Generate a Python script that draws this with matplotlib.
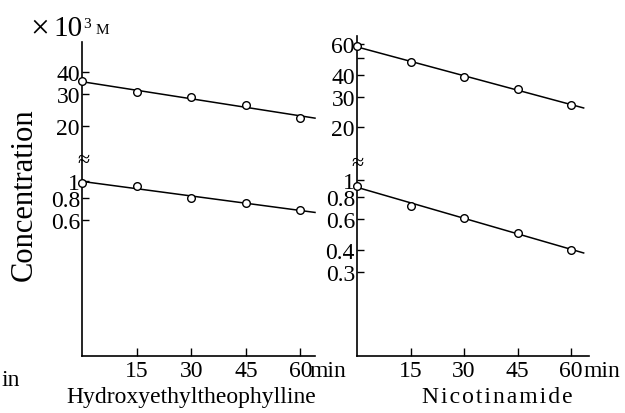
import numpy as np
import matplotlib
matplotlib.use("Agg")
import matplotlib.pyplot as plt
from matplotlib.ticker import FixedLocator, NullLocator, FixedFormatter

plt.rcParams['font.family'] = ['Liberation Serif', 'DejaVu Serif']

# ---- data (x 10^3 M) ----
time = [0, 15, 30, 45, 60]
hyd_high = [35.5, 30.8, 29.0, 26.2, 22.2]
hyd_low = [0.98, 0.94, 0.80, 0.75, 0.68]
nic_high = [58.5, 47.0, 39.0, 33.0, 27.0]
nic_low = [0.93, 0.71, 0.61, 0.50, 0.40]

xticks = [15, 30, 45, 60]
xticklabels = ["15", "30", "45", "60"]

hyd_hi_ticks = [20, 30, 40]
hyd_hi_labels = ["20", "30", "40"]
hyd_lo_ticks = [0.6, 0.8, 1.0]
hyd_lo_labels = ["0.6", "0.8", "1"]
nic_hi_ticks = [20, 30, 40, 50, 60]
nic_hi_labels = ["20", "30", "40", "", "60"]
nic_lo_ticks = [0.3, 0.4, 0.6, 0.8, 1.0]
nic_lo_labels = ["0.3", "0.4", "0.6", "0.8", "1"]

W, H = 625, 414
fig = plt.figure(figsize=(W / 100, H / 100), dpi=100)

FS = 17
LW = 1.2


def fx(px):
    return px / W


def fy(py):
    return 1 - py / H


def make_panel(x0, x1, top, brk, bottom, xmax, hi_lim, lo_lim,
               hi, lo, hi_t, hi_l, lo_t, lo_l, tend):
    axu = fig.add_axes([fx(x0), fy(brk), fx(x1) - fx(x0), fy(top) - fy(brk)])
    axl = fig.add_axes([fx(x0), fy(bottom), fx(x1) - fx(x0), fy(brk) - fy(bottom)])
    for ax, lim, vals, tks, lbs in ((axu, hi_lim, hi, hi_t, hi_l),
                                    (axl, lo_lim, lo, lo_t, lo_l)):
        ax.set_yscale('log')
        ax.set_xlim(0, xmax)
        ax.set_ylim(*lim)
        ax.patch.set_alpha(0)
        for s in ('top', 'right'):
            ax.spines[s].set_visible(False)
        ax.spines['left'].set_linewidth(LW)
        ax.spines['bottom'].set_linewidth(LW)
        ax.yaxis.set_major_locator(FixedLocator(tks))
        ax.yaxis.set_major_formatter(FixedFormatter(lbs))
        ax.yaxis.set_minor_locator(NullLocator())
        ax.tick_params(axis='y', direction='in', length=5, width=1,
                       labelsize=FS, pad=1.5)
        # fitted straight line on log scale
        coef = np.polyfit(time, np.log10(vals), 1)
        tt = np.array([0, tend])
        ax.plot(tt, 10 ** np.polyval(coef, tt), color='black', lw=1.1,
                clip_on=False, zorder=2)
        ax.plot(time, vals, 'o', mfc='white', mec='black', ms=5.5,
                mew=1.0, clip_on=False, zorder=3)
    axu.spines['bottom'].set_visible(False)
    axu.xaxis.set_major_locator(NullLocator())
    axu.xaxis.set_minor_locator(NullLocator())
    axl.xaxis.set_major_locator(FixedLocator(xticks))
    axl.xaxis.set_major_formatter(FixedFormatter(xticklabels))
    axl.tick_params(axis='x', direction='in', length=6, width=1,
                    labelsize=FS, pad=3)
    # break mark
    fig.text(fx(x0 + 1), fy(brk + 1), "≈", fontsize=16, ha='center',
             va='center')
    return axu, axl


axu1, axl1 = make_panel(82, 315, 43, 161, 357, 64, (12.9, 59), (0.1, 1.32),
                        hyd_high, hyd_low, hyd_hi_ticks, hyd_hi_labels,
                        hyd_lo_ticks, hyd_lo_labels, 64)
axu2, axl2 = make_panel(357, 589, 37, 164, 357, 65, (12.5, 66.6), (0.099, 1.25),
                        nic_high, nic_low, nic_hi_ticks, nic_hi_labels,
                        nic_lo_ticks, nic_lo_labels, 63.5)

# "min" after the 60 tick labels
fig.text(fx(310), fy(372), "min", fontsize=FS, ha='left', va='center')
fig.text(fx(583), fy(372), "min", fontsize=FS, ha='left', va='center')
fig.text(fx(2), fy(381), "in", fontsize=FS, ha='left', va='center')

fig.text(fx(191), fy(398), "Hydroxyethyltheophylline", fontsize=FS,
         ha='center', va='center')
fig.text(fx(497), fy(398), "\u200a".join("Nicotinamide"),
         fontsize=FS, ha='center', va='center')

fig.text(fx(24), fy(195), "Concentration", fontsize=22, rotation=90,
         ha='center', va='center')

# unit label: x 10^3 M
fig.text(fx(30), fy(29), "×", fontsize=24, ha='left', va='center')
fig.text(fx(53), fy(29), "10", fontsize=21, ha='left', va='center')
fig.text(fx(83), fy(24), "3", fontsize=11, ha='left', va='center')
fig.text(fx(96), fy(31), "M", fontsize=11, ha='left', va='center')

fig.savefig("out.png", dpi=100)
